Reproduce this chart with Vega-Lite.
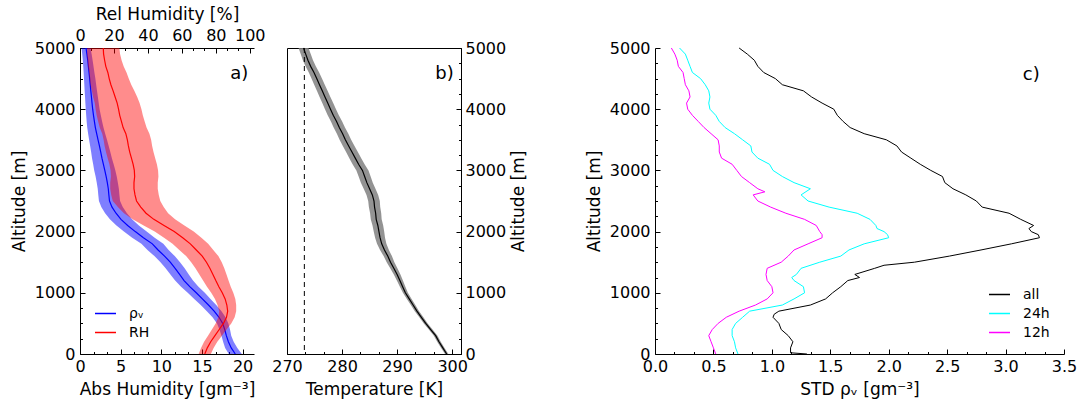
{
  "$schema": "https://vega.github.io/schema/vega-lite/v6.json",
  "background": "white",
  "padding": {"left": 10, "top": 5, "right": 5, "bottom": 5},
  "config": {
    "font": "DejaVu Sans",
    "view": {"stroke": null},
    "axis": {
      "grid": false, "domainColor": "black", "tickColor": "black", "labelColor": "black", "titleColor": "black",
      "labelFont": "DejaVu Sans", "titleFont": "DejaVu Sans", "labelFontSize": 16, "titleFontSize": 17,
      "titleFontWeight": "normal", "labelFlush": false, "labelOverlap": false, "labelBound": false,
      "domainWidth": 1, "tickWidth": 1
    },
    "legend": {
      "labelFont": "DejaVu Sans", "labelFontSize": 14, "labelColor": "black", "symbolType": "stroke",
      "symbolSize": 440, "symbolStrokeWidth": 1.5, "labelOffset": 12, "rowPadding": 0, "padding": 6, "offset": 8
    }
  },
  "datasets": {
    "hum": [
      {"alt": 0, "rho": 19.1, "rho_lo": 18.3, "rho_hi": 19.9, "rh": 73.5, "rh_lo": 69.9, "rh_hi": 77.1},
      {"alt": 100, "rho": 18.6, "rho_lo": 17.85, "rho_hi": 19.35, "rh": 75.0, "rh_lo": 71.3, "rh_hi": 78.7},
      {"alt": 200, "rho": 18.25, "rho_lo": 17.6, "rho_hi": 18.9, "rh": 77.0, "rh_lo": 73.1, "rh_hi": 80.9},
      {"alt": 300, "rho": 18.0, "rho_lo": 17.4, "rho_hi": 18.6, "rh": 79.5, "rh_lo": 75.4, "rh_hi": 83.6},
      {"alt": 400, "rho": 17.8, "rho_lo": 17.15, "rho_hi": 18.45, "rh": 82.0, "rh_lo": 77.7, "rh_hi": 86.3},
      {"alt": 500, "rho": 17.55, "rho_lo": 16.85, "rho_hi": 18.25, "rh": 84.5, "rh_lo": 79.9, "rh_hi": 89.1},
      {"alt": 600, "rho": 17.1, "rho_lo": 16.3, "rho_hi": 17.9, "rh": 86.3, "rh_lo": 81.5, "rh_hi": 91.1},
      {"alt": 700, "rho": 16.5, "rho_lo": 15.6, "rho_hi": 17.4, "rh": 87.0, "rh_lo": 82.0, "rh_hi": 92.0},
      {"alt": 800, "rho": 15.8, "rho_lo": 14.85, "rho_hi": 16.75, "rh": 86.5, "rh_lo": 81.0, "rh_hi": 92.0},
      {"alt": 900, "rho": 15.05, "rho_lo": 14.05, "rho_hi": 16.05, "rh": 85.5, "rh_lo": 79.5, "rh_hi": 91.5},
      {"alt": 1000, "rho": 14.3, "rho_lo": 13.25, "rho_hi": 15.35, "rh": 83.8, "rh_lo": 77.3, "rh_hi": 90.3},
      {"alt": 1100, "rho": 13.5, "rho_lo": 12.43, "rho_hi": 14.57, "rh": 81.8, "rh_lo": 74.8, "rh_hi": 88.8},
      {"alt": 1200, "rho": 12.8, "rho_lo": 11.7, "rho_hi": 13.9, "rh": 80.0, "rh_lo": 72.5, "rh_hi": 87.5},
      {"alt": 1300, "rho": 12.25, "rho_lo": 11.12, "rho_hi": 13.38, "rh": 78.3, "rh_lo": 70.3, "rh_hi": 86.3},
      {"alt": 1400, "rho": 11.7, "rho_lo": 10.53, "rho_hi": 12.87, "rh": 76.5, "rh_lo": 68.0, "rh_hi": 85.0},
      {"alt": 1500, "rho": 11.1, "rho_lo": 9.9, "rho_hi": 12.3, "rh": 74.5, "rh_lo": 65.5, "rh_hi": 83.5},
      {"alt": 1600, "rho": 10.4, "rho_lo": 9.15, "rho_hi": 11.65, "rh": 72.0, "rh_lo": 62.5, "rh_hi": 81.5},
      {"alt": 1700, "rho": 9.6, "rho_lo": 8.3, "rho_hi": 10.9, "rh": 68.5, "rh_lo": 58.5, "rh_hi": 78.5},
      {"alt": 1800, "rho": 8.9, "rho_lo": 7.55, "rho_hi": 10.25, "rh": 65.0, "rh_lo": 54.5, "rh_hi": 75.5},
      {"alt": 1900, "rho": 7.8, "rho_lo": 6.42, "rho_hi": 9.18, "rh": 60.5, "rh_lo": 49.5, "rh_hi": 71.5},
      {"alt": 2000, "rho": 6.8, "rho_lo": 5.4, "rho_hi": 8.2, "rh": 55.5, "rh_lo": 44.0, "rh_hi": 67.0},
      {"alt": 2100, "rho": 5.86, "rho_lo": 4.48, "rho_hi": 7.24, "rh": 49.5, "rh_lo": 37.5, "rh_hi": 61.5},
      {"alt": 2200, "rho": 5.04, "rho_lo": 3.68, "rho_hi": 6.4, "rh": 43.5, "rh_lo": 31.0, "rh_hi": 56.0},
      {"alt": 2300, "rho": 4.43, "rho_lo": 3.09, "rho_hi": 5.77, "rh": 38.9, "rh_lo": 25.9, "rh_hi": 51.9},
      {"alt": 2400, "rho": 3.94, "rho_lo": 2.62, "rho_hi": 5.26, "rh": 35.8, "rh_lo": 22.3, "rh_hi": 49.3},
      {"alt": 2500, "rho": 3.63, "rho_lo": 2.33, "rho_hi": 4.93, "rh": 33.3, "rh_lo": 19.3, "rh_hi": 47.3},
      {"alt": 2600, "rho": 3.55, "rho_lo": 2.25, "rho_hi": 4.85, "rh": 32.4, "rh_lo": 18.4, "rh_hi": 46.4},
      {"alt": 2700, "rho": 3.48, "rho_lo": 2.18, "rho_hi": 4.78, "rh": 31.8, "rh_lo": 17.8, "rh_hi": 45.8},
      {"alt": 2800, "rho": 3.36, "rho_lo": 2.06, "rho_hi": 4.66, "rh": 31.8, "rh_lo": 17.8, "rh_hi": 45.8},
      {"alt": 2900, "rho": 3.22, "rho_lo": 1.92, "rho_hi": 4.52, "rh": 32.2, "rh_lo": 18.2, "rh_hi": 46.2},
      {"alt": 3000, "rho": 3.05, "rho_lo": 1.75, "rho_hi": 4.35, "rh": 32.0, "rh_lo": 18.0, "rh_hi": 46.0},
      {"alt": 3100, "rho": 2.88, "rho_lo": 1.62, "rho_hi": 4.14, "rh": 31.3, "rh_lo": 17.3, "rh_hi": 45.3},
      {"alt": 3200, "rho": 2.7, "rho_lo": 1.48, "rho_hi": 3.92, "rh": 30.3, "rh_lo": 16.3, "rh_hi": 44.3},
      {"alt": 3300, "rho": 2.55, "rho_lo": 1.37, "rho_hi": 3.73, "rh": 29.3, "rh_lo": 15.3, "rh_hi": 43.3},
      {"alt": 3400, "rho": 2.39, "rho_lo": 1.25, "rho_hi": 3.53, "rh": 28.5, "rh_lo": 14.5, "rh_hi": 42.5},
      {"alt": 3500, "rho": 2.22, "rho_lo": 1.12, "rho_hi": 3.32, "rh": 27.9, "rh_lo": 13.9, "rh_hi": 41.9},
      {"alt": 3600, "rho": 2.05, "rho_lo": 1.0, "rho_hi": 3.1, "rh": 27.0, "rh_lo": 13.1, "rh_hi": 40.9},
      {"alt": 3700, "rho": 1.89, "rho_lo": 0.89, "rho_hi": 2.89, "rh": 25.4, "rh_lo": 11.6, "rh_hi": 39.2},
      {"alt": 3800, "rho": 1.77, "rho_lo": 0.82, "rho_hi": 2.72, "rh": 24.4, "rh_lo": 10.7, "rh_hi": 38.1},
      {"alt": 3900, "rho": 1.66, "rho_lo": 0.76, "rho_hi": 2.56, "rh": 23.4, "rh_lo": 9.8, "rh_hi": 37.0},
      {"alt": 4000, "rho": 1.56, "rho_lo": 0.71, "rho_hi": 2.41, "rh": 22.7, "rh_lo": 9.2, "rh_hi": 36.2},
      {"alt": 4100, "rho": 1.48, "rho_lo": 0.66, "rho_hi": 2.3, "rh": 21.9, "rh_lo": 8.7, "rh_hi": 35.1},
      {"alt": 4200, "rho": 1.41, "rho_lo": 0.62, "rho_hi": 2.2, "rh": 20.7, "rh_lo": 7.7, "rh_hi": 33.7},
      {"alt": 4300, "rho": 1.33, "rho_lo": 0.57, "rho_hi": 2.09, "rh": 19.5, "rh_lo": 7.0, "rh_hi": 32.0},
      {"alt": 4400, "rho": 1.26, "rho_lo": 0.53, "rho_hi": 1.99, "rh": 18.2, "rh_lo": 6.2, "rh_hi": 30.2},
      {"alt": 4500, "rho": 1.19, "rho_lo": 0.49, "rho_hi": 1.89, "rh": 17.2, "rh_lo": 5.7, "rh_hi": 28.7},
      {"alt": 4600, "rho": 1.11, "rho_lo": 0.45, "rho_hi": 1.77, "rh": 16.4, "rh_lo": 5.4, "rh_hi": 27.4},
      {"alt": 4700, "rho": 1.03, "rho_lo": 0.4, "rho_hi": 1.66, "rh": 15.2, "rh_lo": 4.7, "rh_hi": 25.7},
      {"alt": 4800, "rho": 0.95, "rho_lo": 0.35, "rho_hi": 1.55, "rh": 14.5, "rh_lo": 4.5, "rh_hi": 24.5},
      {"alt": 4900, "rho": 0.85, "rho_lo": 0.27, "rho_hi": 1.43, "rh": 13.9, "rh_lo": 4.2, "rh_hi": 23.6},
      {"alt": 5000, "rho": 0.74, "rho_lo": 0.19, "rho_hi": 1.29, "rh": 13.7, "rh_lo": 4.2, "rh_hi": 23.2}
    ],
    "temp": [
      {"alt": 0, "t": 299.0, "t_lo": 298.7, "t_hi": 299.3},
      {"alt": 100, "t": 298.3, "t_lo": 297.99, "t_hi": 298.61},
      {"alt": 200, "t": 297.6, "t_lo": 297.28, "t_hi": 297.92},
      {"alt": 300, "t": 297.0, "t_lo": 296.67, "t_hi": 297.33},
      {"alt": 400, "t": 296.1, "t_lo": 295.76, "t_hi": 296.44},
      {"alt": 500, "t": 295.2, "t_lo": 294.85, "t_hi": 295.55},
      {"alt": 600, "t": 294.4, "t_lo": 294.03, "t_hi": 294.77},
      {"alt": 700, "t": 293.6, "t_lo": 293.21, "t_hi": 293.99},
      {"alt": 800, "t": 292.9, "t_lo": 292.49, "t_hi": 293.31},
      {"alt": 900, "t": 292.2, "t_lo": 291.77, "t_hi": 292.63},
      {"alt": 1000, "t": 291.5, "t_lo": 291.05, "t_hi": 291.95},
      {"alt": 1100, "t": 291.0, "t_lo": 290.5, "t_hi": 291.5},
      {"alt": 1200, "t": 290.5, "t_lo": 289.95, "t_hi": 291.05},
      {"alt": 1300, "t": 290.0, "t_lo": 289.4, "t_hi": 290.6},
      {"alt": 1400, "t": 289.4, "t_lo": 288.75, "t_hi": 290.05},
      {"alt": 1500, "t": 288.8, "t_lo": 288.1, "t_hi": 289.5},
      {"alt": 1600, "t": 288.3, "t_lo": 287.55, "t_hi": 289.05},
      {"alt": 1700, "t": 287.7, "t_lo": 286.9, "t_hi": 288.5},
      {"alt": 1800, "t": 287.2, "t_lo": 286.35, "t_hi": 288.05},
      {"alt": 1900, "t": 286.9, "t_lo": 286.0, "t_hi": 287.8},
      {"alt": 2000, "t": 286.7, "t_lo": 285.75, "t_hi": 287.65},
      {"alt": 2100, "t": 286.5, "t_lo": 285.53, "t_hi": 287.47},
      {"alt": 2200, "t": 286.2, "t_lo": 285.21, "t_hi": 287.19},
      {"alt": 2300, "t": 286.1, "t_lo": 285.09, "t_hi": 287.11},
      {"alt": 2400, "t": 285.9, "t_lo": 284.87, "t_hi": 286.93},
      {"alt": 2500, "t": 285.8, "t_lo": 284.75, "t_hi": 286.85},
      {"alt": 2600, "t": 285.5, "t_lo": 284.44, "t_hi": 286.56},
      {"alt": 2700, "t": 285.0, "t_lo": 283.93, "t_hi": 286.07},
      {"alt": 2800, "t": 284.5, "t_lo": 283.42, "t_hi": 285.58},
      {"alt": 2900, "t": 284.1, "t_lo": 283.01, "t_hi": 285.19},
      {"alt": 3000, "t": 283.7, "t_lo": 282.6, "t_hi": 284.8},
      {"alt": 3100, "t": 283.0, "t_lo": 281.91, "t_hi": 284.09},
      {"alt": 3200, "t": 282.4, "t_lo": 281.32, "t_hi": 283.48},
      {"alt": 3300, "t": 281.8, "t_lo": 280.73, "t_hi": 282.87},
      {"alt": 3400, "t": 281.2, "t_lo": 280.14, "t_hi": 282.26},
      {"alt": 3500, "t": 280.6, "t_lo": 279.55, "t_hi": 281.65},
      {"alt": 3600, "t": 280.1, "t_lo": 279.06, "t_hi": 281.14},
      {"alt": 3700, "t": 279.5, "t_lo": 278.47, "t_hi": 280.53},
      {"alt": 3800, "t": 279.0, "t_lo": 277.98, "t_hi": 280.02},
      {"alt": 3900, "t": 278.4, "t_lo": 277.39, "t_hi": 279.41},
      {"alt": 4000, "t": 277.9, "t_lo": 276.9, "t_hi": 278.9},
      {"alt": 4100, "t": 277.4, "t_lo": 276.41, "t_hi": 278.39},
      {"alt": 4200, "t": 276.9, "t_lo": 275.92, "t_hi": 277.88},
      {"alt": 4300, "t": 276.4, "t_lo": 275.43, "t_hi": 277.37},
      {"alt": 4400, "t": 275.9, "t_lo": 274.94, "t_hi": 276.86},
      {"alt": 4500, "t": 275.4, "t_lo": 274.45, "t_hi": 276.35},
      {"alt": 4600, "t": 274.9, "t_lo": 273.96, "t_hi": 275.84},
      {"alt": 4700, "t": 274.3, "t_lo": 273.37, "t_hi": 275.23},
      {"alt": 4800, "t": 273.8, "t_lo": 272.88, "t_hi": 274.72},
      {"alt": 4900, "t": 273.4, "t_lo": 272.49, "t_hi": 274.31},
      {"alt": 5000, "t": 273.0, "t_lo": 272.1, "t_hi": 273.9}
    ],
    "std": [
      {"series": "all", "alt": 0, "std": 1.30}, {"series": "all", "alt": 20, "std": 1.16}, {"series": "all", "alt": 100, "std": 1.16},
      {"series": "all", "alt": 200, "std": 1.18}, {"series": "all", "alt": 300, "std": 1.14}, {"series": "all", "alt": 400, "std": 1.08},
      {"series": "all", "alt": 500, "std": 1.06}, {"series": "all", "alt": 600, "std": 1.01}, {"series": "all", "alt": 650, "std": 1.02},
      {"series": "all", "alt": 700, "std": 1.06}, {"series": "all", "alt": 800, "std": 1.33}, {"series": "all", "alt": 900, "std": 1.46},
      {"series": "all", "alt": 1000, "std": 1.52}, {"series": "all", "alt": 1100, "std": 1.59}, {"series": "all", "alt": 1200, "std": 1.65},
      {"series": "all", "alt": 1250, "std": 1.75}, {"series": "all", "alt": 1300, "std": 1.71}, {"series": "all", "alt": 1400, "std": 1.88},
      {"series": "all", "alt": 1450, "std": 1.96}, {"series": "all", "alt": 1500, "std": 2.22}, {"series": "all", "alt": 1600, "std": 2.52},
      {"series": "all", "alt": 1700, "std": 2.79}, {"series": "all", "alt": 1800, "std": 3.05}, {"series": "all", "alt": 1900, "std": 3.29},
      {"series": "all", "alt": 1950, "std": 3.28}, {"series": "all", "alt": 2000, "std": 3.22}, {"series": "all", "alt": 2050, "std": 3.2},
      {"series": "all", "alt": 2100, "std": 3.24}, {"series": "all", "alt": 2200, "std": 3.13}, {"series": "all", "alt": 2300, "std": 3.03},
      {"series": "all", "alt": 2400, "std": 2.8}, {"series": "all", "alt": 2500, "std": 2.75}, {"series": "all", "alt": 2600, "std": 2.66},
      {"series": "all", "alt": 2700, "std": 2.55}, {"series": "all", "alt": 2800, "std": 2.48}, {"series": "all", "alt": 2900, "std": 2.46},
      {"series": "all", "alt": 3000, "std": 2.36}, {"series": "all", "alt": 3100, "std": 2.27}, {"series": "all", "alt": 3200, "std": 2.19},
      {"series": "all", "alt": 3300, "std": 2.11}, {"series": "all", "alt": 3400, "std": 2.07}, {"series": "all", "alt": 3500, "std": 1.98},
      {"series": "all", "alt": 3600, "std": 1.79}, {"series": "all", "alt": 3700, "std": 1.67}, {"series": "all", "alt": 3800, "std": 1.61},
      {"series": "all", "alt": 3900, "std": 1.56}, {"series": "all", "alt": 4000, "std": 1.53}, {"series": "all", "alt": 4100, "std": 1.43},
      {"series": "all", "alt": 4200, "std": 1.34}, {"series": "all", "alt": 4300, "std": 1.27}, {"series": "all", "alt": 4400, "std": 1.09},
      {"series": "all", "alt": 4500, "std": 1.03}, {"series": "all", "alt": 4600, "std": 0.93}, {"series": "all", "alt": 4700, "std": 0.88},
      {"series": "all", "alt": 4800, "std": 0.85}, {"series": "all", "alt": 4900, "std": 0.79}, {"series": "all", "alt": 5000, "std": 0.72},
      {"series": "24h", "alt": 0, "std": 0.71}, {"series": "24h", "alt": 100, "std": 0.69}, {"series": "24h", "alt": 200, "std": 0.68},
      {"series": "24h", "alt": 300, "std": 0.66}, {"series": "24h", "alt": 400, "std": 0.66}, {"series": "24h", "alt": 500, "std": 0.69},
      {"series": "24h", "alt": 600, "std": 0.75}, {"series": "24h", "alt": 700, "std": 0.81}, {"series": "24h", "alt": 800, "std": 1.09},
      {"series": "24h", "alt": 900, "std": 1.19}, {"series": "24h", "alt": 1000, "std": 1.28}, {"series": "24h", "alt": 1100, "std": 1.27},
      {"series": "24h", "alt": 1200, "std": 1.19}, {"series": "24h", "alt": 1250, "std": 1.17}, {"series": "24h", "alt": 1300, "std": 1.21},
      {"series": "24h", "alt": 1400, "std": 1.25}, {"series": "24h", "alt": 1500, "std": 1.41}, {"series": "24h", "alt": 1600, "std": 1.59},
      {"series": "24h", "alt": 1700, "std": 1.66}, {"series": "24h", "alt": 1800, "std": 1.79}, {"series": "24h", "alt": 1900, "std": 2.0},
      {"series": "24h", "alt": 1950, "std": 1.99}, {"series": "24h", "alt": 2000, "std": 1.96}, {"series": "24h", "alt": 2050, "std": 1.9},
      {"series": "24h", "alt": 2100, "std": 1.89}, {"series": "24h", "alt": 2200, "std": 1.84}, {"series": "24h", "alt": 2300, "std": 1.73},
      {"series": "24h", "alt": 2400, "std": 1.49}, {"series": "24h", "alt": 2500, "std": 1.31}, {"series": "24h", "alt": 2600, "std": 1.25},
      {"series": "24h", "alt": 2700, "std": 1.33}, {"series": "24h", "alt": 2800, "std": 1.19}, {"series": "24h", "alt": 2900, "std": 1.09},
      {"series": "24h", "alt": 3000, "std": 1.01}, {"series": "24h", "alt": 3100, "std": 0.98}, {"series": "24h", "alt": 3200, "std": 0.88},
      {"series": "24h", "alt": 3300, "std": 0.83}, {"series": "24h", "alt": 3400, "std": 0.82}, {"series": "24h", "alt": 3500, "std": 0.75},
      {"series": "24h", "alt": 3600, "std": 0.68}, {"series": "24h", "alt": 3700, "std": 0.6}, {"series": "24h", "alt": 3800, "std": 0.55},
      {"series": "24h", "alt": 3900, "std": 0.52}, {"series": "24h", "alt": 4000, "std": 0.47}, {"series": "24h", "alt": 4100, "std": 0.46},
      {"series": "24h", "alt": 4200, "std": 0.47}, {"series": "24h", "alt": 4300, "std": 0.46}, {"series": "24h", "alt": 4400, "std": 0.43},
      {"series": "24h", "alt": 4500, "std": 0.39}, {"series": "24h", "alt": 4600, "std": 0.32}, {"series": "24h", "alt": 4700, "std": 0.3},
      {"series": "24h", "alt": 4800, "std": 0.28}, {"series": "24h", "alt": 4900, "std": 0.26}, {"series": "24h", "alt": 5000, "std": 0.21},
      {"series": "12h", "alt": 0, "std": 0.52}, {"series": "12h", "alt": 100, "std": 0.5}, {"series": "12h", "alt": 200, "std": 0.48},
      {"series": "12h", "alt": 300, "std": 0.46}, {"series": "12h", "alt": 400, "std": 0.49}, {"series": "12h", "alt": 500, "std": 0.54},
      {"series": "12h", "alt": 600, "std": 0.61}, {"series": "12h", "alt": 700, "std": 0.72}, {"series": "12h", "alt": 800, "std": 0.86},
      {"series": "12h", "alt": 900, "std": 0.96}, {"series": "12h", "alt": 1000, "std": 1.01}, {"series": "12h", "alt": 1100, "std": 1.0},
      {"series": "12h", "alt": 1200, "std": 0.96}, {"series": "12h", "alt": 1300, "std": 0.95}, {"series": "12h", "alt": 1400, "std": 0.96},
      {"series": "12h", "alt": 1500, "std": 1.08}, {"series": "12h", "alt": 1600, "std": 1.14}, {"series": "12h", "alt": 1700, "std": 1.19},
      {"series": "12h", "alt": 1800, "std": 1.31}, {"series": "12h", "alt": 1900, "std": 1.43}, {"series": "12h", "alt": 1950, "std": 1.43},
      {"series": "12h", "alt": 2000, "std": 1.41}, {"series": "12h", "alt": 2100, "std": 1.38}, {"series": "12h", "alt": 2200, "std": 1.28},
      {"series": "12h", "alt": 2300, "std": 1.12}, {"series": "12h", "alt": 2400, "std": 0.99}, {"series": "12h", "alt": 2500, "std": 0.88},
      {"series": "12h", "alt": 2600, "std": 0.84}, {"series": "12h", "alt": 2650, "std": 0.94}, {"series": "12h", "alt": 2700, "std": 0.88},
      {"series": "12h", "alt": 2800, "std": 0.81}, {"series": "12h", "alt": 2900, "std": 0.74}, {"series": "12h", "alt": 3000, "std": 0.7},
      {"series": "12h", "alt": 3100, "std": 0.66}, {"series": "12h", "alt": 3200, "std": 0.57}, {"series": "12h", "alt": 3300, "std": 0.55},
      {"series": "12h", "alt": 3400, "std": 0.55}, {"series": "12h", "alt": 3500, "std": 0.54}, {"series": "12h", "alt": 3600, "std": 0.48},
      {"series": "12h", "alt": 3700, "std": 0.42}, {"series": "12h", "alt": 3800, "std": 0.37}, {"series": "12h", "alt": 3900, "std": 0.32},
      {"series": "12h", "alt": 4000, "std": 0.28}, {"series": "12h", "alt": 4100, "std": 0.27}, {"series": "12h", "alt": 4200, "std": 0.3},
      {"series": "12h", "alt": 4300, "std": 0.29}, {"series": "12h", "alt": 4400, "std": 0.26}, {"series": "12h", "alt": 4500, "std": 0.25},
      {"series": "12h", "alt": 4600, "std": 0.24}, {"series": "12h", "alt": 4700, "std": 0.2}, {"series": "12h", "alt": 4800, "std": 0.19},
      {"series": "12h", "alt": 4900, "std": 0.17}, {"series": "12h", "alt": 5000, "std": 0.14}
    ]
  },
  "spacing": 33,
  "bounds": "flush",
  "resolve": {"scale": {"x": "independent", "y": "independent", "color": "independent"}},
  "hconcat": [
    {
      "width": 174,
      "height": 306,
      "resolve": {"scale": {"x": "independent"}, "axis": {"x": "independent"}},
      "layer": [
        {
          "layer": [
            {
              "data": {"name": "hum"},
              "mark": {"type": "area", "orient": "horizontal", "color": "#0000ff", "opacity": 0.5},
              "encoding": {
                "y": {"field": "alt", "type": "quantitative", "scale": {"domain": [0, 5000], "nice": false, "zero": false},
                  "axis": {"title": "Altitude [m]", "orient": "left", "format": "d", "labelOverlap": false, "tickCount": 1000,
                    "values": [0,250,500,750,1000,1250,1500,1750,2000,2250,2500,2750,3000,3250,3500,3750,4000,4250,4500,4750,5000],
                    "labelExpr": "datum.value % 1000 === 0 ? datum.label : ''",
                    "tickSize": {"condition": {"test": "datum.value % 1000 === 0", "value": -5}, "value": -2.5},
                    "labelPadding": 10, "titlePadding": 6}},
                "x": {"field": "rho_lo", "type": "quantitative", "scale": {"domain": [0, 21.4], "nice": false, "zero": false},
                  "axis": {"title": "Abs Humidity [gm⁻³]", "orient": "bottom", "format": ".0f", "labelOverlap": false, "tickCount": 1000,
                    "values": [0,1.6667,3.3333,5,6.6667,8.3333,10,11.6667,13.3333,15,16.6667,18.3333,20],
                    "labelExpr": "abs(datum.value/5 - round(datum.value/5)) < 0.001 ? datum.label : ''",
                    "tickSize": {"condition": {"test": "abs(datum.value/5 - round(datum.value/5)) < 0.001", "value": -5}, "value": -2.5},
                    "labelPadding": 9, "titlePadding": 5}},
                "x2": {"field": "rho_hi"}
              }
            },
            {
              "data": {"name": "hum"},
              "mark": {"type": "line", "strokeWidth": 1.2},
              "encoding": {
                "y": {"field": "alt", "type": "quantitative"},
                "x": {"field": "rho", "type": "quantitative"},
                "order": {"field": "alt", "type": "quantitative"},
                "color": {"datum": "ρᵥ", "type": "nominal",
                  "scale": {"domain": ["ρᵥ", "RH"], "range": ["#0000ff", "#ff0000"]},
                  "legend": {"title": null, "orient": "bottom-left"}}
              }
            },
            {
              "data": {"values": [{}]},
              "mark": {"type": "text", "fontSize": 18, "font": "DejaVu Sans", "align": "center", "baseline": "middle", "color": "black"},
              "encoding": {"x": {"datum": 19.6}, "y": {"datum": 4570}, "text": {"value": "a)"}}
            }
          ]
        },
        {
          "layer": [
            {
              "data": {"name": "hum"},
              "mark": {"type": "area", "orient": "horizontal", "color": "#ff0000", "opacity": 0.45},
              "encoding": {
                "y": {"field": "alt", "type": "quantitative"},
                "x": {"field": "rh_lo", "type": "quantitative", "scale": {"domain": [0, 102.5], "nice": false, "zero": false},
                  "axis": {"title": "Rel Humidity [%]", "orient": "top", "format": "d", "labelOverlap": false, "tickCount": 1000,
                    "values": [0,6.6667,13.3333,20,26.6667,33.3333,40,46.6667,53.3333,60,66.6667,73.3333,80,86.6667,93.3333,100],
                    "labelExpr": "abs(datum.value/20 - round(datum.value/20)) < 0.001 ? datum.label : ''",
                    "tickSize": {"condition": {"test": "abs(datum.value/20 - round(datum.value/20)) < 0.001", "value": -5}, "value": -2.5},
                    "labelPadding": 10, "titlePadding": 1}},
                "x2": {"field": "rh_hi"}
              }
            },
            {
              "data": {"name": "hum"},
              "mark": {"type": "line", "strokeWidth": 1.2},
              "encoding": {
                "y": {"field": "alt", "type": "quantitative"},
                "x": {"field": "rh", "type": "quantitative"},
                "order": {"field": "alt", "type": "quantitative"},
                "color": {"datum": "RH", "type": "nominal"}
              }
            }
          ]
        }
      ]
    },
    {
      "width": 174,
      "height": 306,
      "view": {"stroke": "black", "strokeWidth": 1},
      "layer": [
        {
          "data": {"name": "temp"},
          "mark": {"type": "area", "orient": "horizontal", "color": "#808080", "opacity": 0.85},
          "encoding": {
            "y": {"field": "alt", "type": "quantitative", "scale": {"domain": [0, 5000], "nice": false, "zero": false},
              "axis": {"title": "Altitude [m]", "orient": "right", "format": "d", "labelOverlap": false, "tickCount": 1000,
                "values": [0,250,500,750,1000,1250,1500,1750,2000,2250,2500,2750,3000,3250,3500,3750,4000,4250,4500,4750,5000],
                "labelExpr": "datum.value % 1000 === 0 ? datum.label : ''",
                "tickSize": {"condition": {"test": "datum.value % 1000 === 0", "value": -5}, "value": -2.5},
                "labelPadding": 9, "titlePadding": 5, "titleAngle": 270, "titleBaseline": "top"}},
            "x": {"field": "t_lo", "type": "quantitative", "scale": {"domain": [270, 301.6], "nice": false, "zero": false},
              "axis": {"title": "Temperature [K]", "orient": "bottom", "format": "d", "labelOverlap": false, "tickCount": 1000,
                "values": [270,273.3333,276.6667,280,283.3333,286.6667,290,293.3333,296.6667,300],
                "labelExpr": "abs(datum.value/10 - round(datum.value/10)) < 0.001 ? datum.label : ''",
                "tickSize": {"condition": {"test": "abs(datum.value/10 - round(datum.value/10)) < 0.001", "value": -5}, "value": -2.5},
                "labelPadding": 9, "titlePadding": 5}},
            "x2": {"field": "t_hi"}
          }
        },
        {
          "data": {"name": "temp"},
          "mark": {"type": "line", "color": "black", "strokeWidth": 1.2},
          "encoding": {
            "y": {"field": "alt", "type": "quantitative"},
            "x": {"field": "t", "type": "quantitative"},
            "order": {"field": "alt", "type": "quantitative"}
          }
        },
        {
          "data": {"values": [{}]},
          "mark": {"type": "rule", "color": "black", "strokeDash": [5, 4], "strokeWidth": 1},
          "encoding": {"x": {"datum": 273.15}}
        },
        {
          "data": {"values": [{}]},
          "mark": {"type": "text", "fontSize": 18, "font": "DejaVu Sans", "align": "center", "baseline": "middle", "color": "black"},
          "encoding": {"x": {"datum": 298.6}, "y": {"datum": 4570}, "text": {"value": "b)"}}
        }
      ]
    },
    {
      "width": 128,
      "height": 306,
      "data": {"values": []},
      "mark": {"type": "point", "opacity": 0}
    },
    {
      "width": 409,
      "height": 306,
      "layer": [
        {
          "data": {"name": "std"},
          "mark": {"type": "line", "strokeWidth": 1},
          "encoding": {
            "y": {"field": "alt", "type": "quantitative", "scale": {"domain": [0, 5000], "nice": false, "zero": false},
              "axis": {"title": "Altitude [m]", "orient": "left", "format": "d", "labelOverlap": false, "tickCount": 1000,
                "values": [0,250,500,750,1000,1250,1500,1750,2000,2250,2500,2750,3000,3250,3500,3750,4000,4250,4500,4750,5000],
                "labelExpr": "datum.value % 1000 === 0 ? datum.label : ''",
                "tickSize": {"condition": {"test": "datum.value % 1000 === 0", "value": -5}, "value": -2.5},
                "labelPadding": 10, "titlePadding": 6}},
            "x": {"field": "std", "type": "quantitative", "scale": {"domain": [0, 3.5], "nice": false, "zero": false},
              "axis": {"title": "STD ρᵥ [gm⁻³]", "orient": "bottom", "format": ".1f", "labelOverlap": false, "tickCount": 1000,
                "values": [0,0.1667,0.3333,0.5,0.6667,0.8333,1,1.1667,1.3333,1.5,1.6667,1.8333,2,2.1667,2.3333,2.5,2.6667,2.8333,3,3.1667,3.3333,3.5],
                "labelExpr": "abs(datum.value*2 - round(datum.value*2)) < 0.001 ? datum.label : ''",
                "tickSize": {"condition": {"test": "abs(datum.value*2 - round(datum.value*2)) < 0.001", "value": -5}, "value": -2.5},
                "labelPadding": 9, "titlePadding": 5}},
            "order": {"field": "alt", "type": "quantitative"},
            "color": {"field": "series", "type": "nominal",
              "scale": {"domain": ["all", "24h", "12h"], "range": ["#000000", "#00ffff", "#ff00ff"]},
              "legend": {"title": null, "orient": "bottom-right"}}
          }
        },
        {
          "data": {"values": [{}]},
          "mark": {"type": "text", "fontSize": 18, "font": "DejaVu Sans", "align": "center", "baseline": "middle", "color": "black"},
          "encoding": {"x": {"datum": 3.22}, "y": {"datum": 4565}, "text": {"value": "c)"}}
        }
      ]
    }
  ]
}
